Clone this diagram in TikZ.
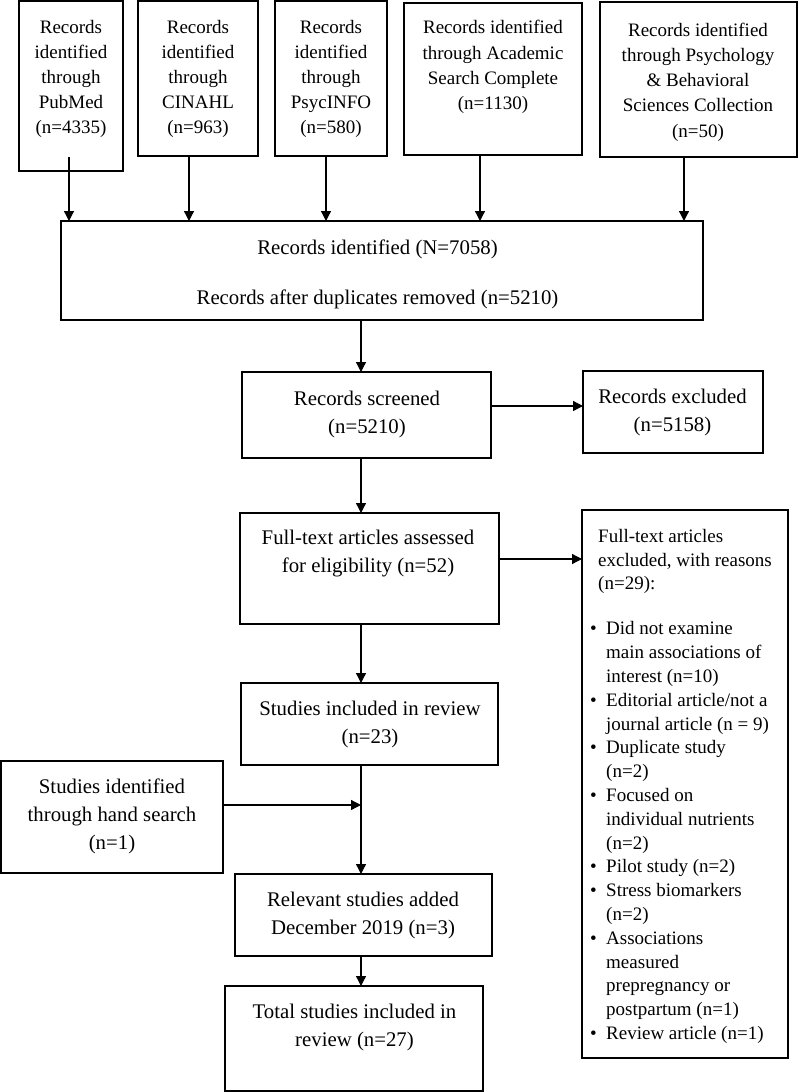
\documentclass[tikz,border=0pt]{standalone}
\usepackage{fontspec}
\setmainfont{Liberation Serif}
\usetikzlibrary{arrows.meta}
\tikzset{
  box/.style={draw, line width=1.3pt, inner sep=0pt, outer sep=0pt, anchor=north west},
  txt/.style={align=center, inner sep=0pt, font=\fontsize{19}{25.2}\selectfont},
  mtxt/.style={align=center, inner sep=0pt, font=\fontsize{20.8}{28}\selectfont},
  arr/.style={line width=1.3pt, -{Triangle[length=10pt,width=10pt]}},
}
\newcommand\bitem{\hspace*{8pt}\llap{\textbullet\hspace{9.5pt}}}
\newcommand\bcont{\hspace*{8pt}}
\begin{document}
\begin{tikzpicture}[x=1pt,y=-1pt]
\useasboundingbox (0,0) rectangle (799,1092);
% boxes
\node[box, minimum width=104pt, minimum height=170pt] (pub) at (19,1) {};
\node[box, minimum width=120pt, minimum height=155pt] (cin) at (138,1) {};
\node[box, minimum width=112pt, minimum height=155pt] (psy) at (275,1) {};
\node[box, minimum width=178pt, minimum height=152pt] (asc) at (404,3) {};
\node[box, minimum width=197pt, minimum height=155pt] (pbs) at (600,2) {};
\node[box, minimum width=642pt, minimum height=99pt] (big) at (61,221) {};
\node[box, minimum width=249pt, minimum height=86pt] (scr) at (242,372) {};
\node[box, minimum width=180pt, minimum height=82pt] (exc) at (583,371) {};
\node[box, minimum width=259pt, minimum height=111pt] (ft) at (240,513) {};
\node[box, minimum width=206pt, minimum height=548pt] (fte) at (582,510) {};
\node[box, minimum width=257pt, minimum height=82pt] (inc) at (241,683) {};
\node[box, minimum width=222pt, minimum height=112pt] (hand) at (1,761) {};
\node[box, minimum width=257pt, minimum height=82pt] (rel) at (235,874) {};
\node[box, minimum width=258pt, minimum height=105pt] (tot) at (225,986) {};
% texts
\node[txt] (pubt) at (71,79) {Records\\identified\\through\\PubMed\\(n=4335)};
\node[txt] (cint) at (198,79) {Records\\identified\\through\\CINAHL\\(n=963)};
\node[txt] (psyt) at (331,79) {Records\\identified\\through\\PsycINFO\\(n=580)};
\node[txt] (asct) at (493,67) {Records identified\\through Academic\\Search Complete\\(n=1130)};
\node[txt] (pbst) at (698,82) {Records identified\\through Psychology\\\& Behavioral\\Sciences Collection\\(n=50)};
\node[mtxt] (bigt) at (377.5,274) {Records identified (N=7058)\\[22pt]Records after duplicates removed (n=5210)};
\node[mtxt] (scrt) at (367,414) {Records screened\\(n=5210)};
\node[mtxt] (exct) at (672.5,412.5) {Records excluded\\(n=5158)};
\node[mtxt] (ftt) at (368,554) {Full-text articles assessed\\for eligibility (n=52)};
\node[mtxt] (inct) at (370,724) {Studies included in review\\(n=23)};
\node[mtxt] (handt) at (112,816) {Studies identified\\through hand search\\(n=1)};
\node[mtxt] (relt) at (363,915) {Relevant studies added\\December 2019 (n=3)};
\node[mtxt] (tott) at (354.5,1027.5) {Total studies included in\\review (n=27)};
\node[anchor=north west, align=left, inner sep=0pt, font=\fontsize{19}{23.8}\selectfont] (ftet) at (598,529)
 {Full-text articles\\excluded, with reasons\\(n=29):\\[21.2pt]
  \bitem Did not examine\\\bcont main associations of\\\bcont interest (n=10)\\
  \bitem Editorial article/not a\\\bcont journal article (n = 9)\\
  \bitem Duplicate study\\\bcont (n=2)\\
  \bitem Focused on\\\bcont individual nutrients\\\bcont (n=2)\\
  \bitem Pilot study (n=2)\\
  \bitem Stress biomarkers\\\bcont (n=2)\\
  \bitem Associations\\\bcont measured\\\bcont prepregnancy or\\\bcont postpartum (n=1)\\
  \bitem Review article (n=1)};
% connectors
\coordinate (spine) at (361,0);
\draw[arr] ([xshift=-2pt,yshift=14pt]pub.south) -- ([xshift=-2pt]pub.south |- big.north);
\draw[arr] ([xshift=-9pt]cin.south) -- ([xshift=-9pt]cin.south |- big.north);
\draw[arr] ([xshift=-5pt]psy.south) -- ([xshift=-5pt]psy.south |- big.north);
\draw[arr] ([xshift=-13pt]asc.south) -- ([xshift=-13pt]asc.south |- big.north);
\draw[arr] ([xshift=-14.5pt]pbs.south) -- ([xshift=-14.5pt]pbs.south |- big.north);
\draw[arr] (big.south -| spine) -- (scr.north -| spine);
\draw[arr] (scr.south -| spine) -- (ft.north -| spine);
\draw[arr] (ft.south -| spine) -- (inc.north -| spine);
\draw[arr] (inc.south -| spine) -- (rel.north -| spine);
\draw[arr] (rel.south -| spine) -- (tot.north -| spine);
\draw[arr] ([yshift=9pt]scr.east) -- ([yshift=9pt]scr.east -| exc.west);
\draw[arr] ([yshift=9.5pt]ft.east) -- ([yshift=9.5pt]ft.east -| fte.west);
\draw[arr] ([yshift=12pt]hand.east) -- ([yshift=12pt]hand.east -| spine);
\end{tikzpicture}
\end{document}
